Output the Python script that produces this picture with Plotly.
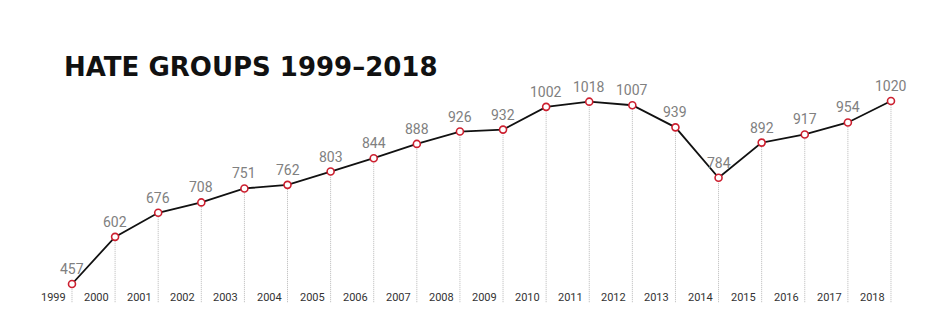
import plotly.graph_objects as go

years = list(range(1999, 2019))
groups = [457, 602, 676, 708, 751, 762, 803, 844, 888, 926, 932, 1002, 1018, 1007, 939, 784, 892, 917, 954, 1020]
year_labels = [str(y) for y in years]
title = "HATE GROUPS 1999\u20132018"

Y_BASE = 401
LABEL_Y = 417

fig = go.Figure()
fig.add_trace(go.Scatter(
    x=years, y=groups, mode="lines+markers",
    line=dict(color="#111111", width=1.8),
    marker=dict(symbol="circle", size=7, color="white",
                line=dict(color="#cc1f2f", width=1.6)),
    hoverinfo="skip", showlegend=False,
))

shapes = []
annotations = []
for yr, v, lab in zip(years, groups, year_labels):
    shapes.append(dict(type="line", xref="x", yref="y", x0=yr, x1=yr, y0=Y_BASE, y1=v,
                       line=dict(color="#b8b8b8", width=1, dash="1px,1px"), layer="below"))
    annotations.append(dict(x=yr, y=v, xref="x", yref="y", text=str(v), showarrow=False,
                            yanchor="bottom", yshift=5,
                            font=dict(family="Liberation Sans Narrow, Roboto, sans-serif", size=14, color="#808080")))
    annotations.append(dict(x=yr, y=LABEL_Y, xref="x", yref="y", text=lab, showarrow=False,
                            xanchor="right", yanchor="middle", xshift=-4,
                            font=dict(family="Liberation Sans Narrow, Roboto, sans-serif", size=11, color="#333333")))

annotations.append(dict(xref="x domain", yref="y domain", x=62/944, y=1-67/331,
                        text=title, showarrow=False, xanchor="left", yanchor="middle",
                        font=dict(family="DejaVu Sans, sans-serif", size=26, color="#111111", weight=700)))

fig.update_layout(
    width=944, height=331,
    margin=dict(l=0, r=0, t=0, b=0),
    paper_bgcolor="white", plot_bgcolor="white",
    xaxis=dict(range=[1997.33, 2019.23], visible=False, fixedrange=True),
    yaxis=dict(range=[312.4, 1330.8], visible=False, fixedrange=True),
    shapes=shapes, annotations=annotations,
)
fig.write_html("out.html")
